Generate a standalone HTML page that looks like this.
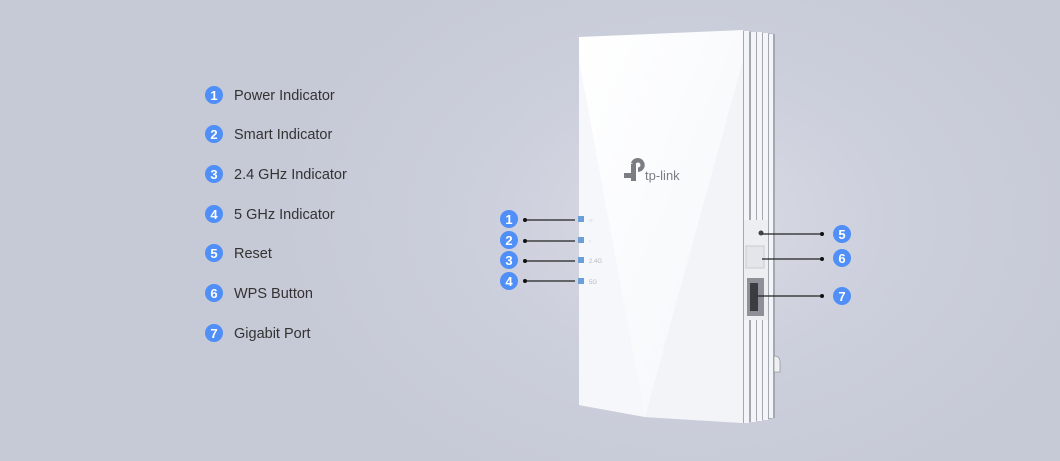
<!DOCTYPE html>
<html><head><meta charset="utf-8"><style>
html,body{margin:0;padding:0;}
body{width:1060px;height:461px;overflow:hidden;background:radial-gradient(ellipse 420px 300px at 690px 220px,#d9dce5 0%,#cbcedb 55%,#c6c9d6 100%);font-family:"Liberation Sans",sans-serif;}
</style></head><body>
<svg width="1060" height="461" viewBox="0 0 1060 461" xmlns="http://www.w3.org/2000/svg" style="position:absolute;left:0;top:0">
<defs>
<linearGradient id="fr" x1="0" y1="0" x2="1" y2="1">
<stop offset="0" stop-color="#ffffff"/><stop offset="1" stop-color="#f4f6fa"/></linearGradient>
</defs>
<g font-family="Liberation Sans, sans-serif">
<g fill="#4f8ff7">
<circle cx="214" cy="95" r="9"/><circle cx="214" cy="134" r="9"/><circle cx="214" cy="174" r="9"/>
<circle cx="214" cy="214" r="9"/><circle cx="214" cy="253" r="9"/><circle cx="214" cy="293" r="9"/><circle cx="214" cy="333" r="9"/>
</g>
<g fill="#fff" font-size="13" font-weight="bold" text-anchor="middle">
<text x="214" y="100">1</text><text x="214" y="139">2</text><text x="214" y="179">3</text><text x="214" y="219">4</text><text x="214" y="258">5</text><text x="214" y="298">6</text><text x="214" y="338">7</text>
</g>
<g fill="#333" font-size="14.5">
<text x="234" y="100">Power Indicator</text>
<text x="234" y="139">Smart Indicator</text>
<text x="234" y="179">2.4 GHz Indicator</text>
<text x="234" y="219">5 GHz Indicator</text>
<text x="234" y="258">Reset</text>
<text x="234" y="298">WPS Button</text>
<text x="234" y="338">Gigabit Port</text>
</g>
<path d="M743 31 L775 34 L775 418 L743 423 Z" fill="#a4a8b1"/>
<g fill="#f4f5f8">
<rect x="744" y="31" width="5" height="392"/><rect x="751" y="32" width="5" height="390"/><rect x="757" y="32" width="5" height="389"/><rect x="763" y="33" width="5" height="387"/><rect x="769" y="34" width="4" height="384"/>
</g>
<rect x="744" y="220" width="24" height="100" fill="#eceef2"/>
<rect x="746" y="246" width="18" height="22" fill="#e3e5ea" stroke="#c8cbd2"/>
<rect x="747" y="278" width="17" height="38" fill="#8d9098"/>
<rect x="750" y="283" width="8" height="28" fill="#3a3c42"/>
<circle cx="761" cy="233" r="2.5" fill="#444"/>
<path d="M774 356 q6 0 6 6 v10 h-6 z" fill="#eef0f4" stroke="#999" stroke-width="0.8"/>
<path d="M579 37 L743 30 L743 423 L645 417 L579 405 Z" fill="url(#fr)"/>
<path d="M579 60 L645 417 L579 405 Z" fill="#f6f7fa"/>
<path d="M743 60 L645 417 L743 423 Z" fill="#f2f4f8"/>
<g fill="#7b7d82">
<path d="M624 173 h7 v-9 h5 v17 h-5 v-3 h-7z"/>
<path d="M631 163 a7 7 0 1 1 7 9 v-4.5 a2.5 2.5 0 1 0 -2.5 -2.5z"/>
<text x="645" y="180" font-size="13">tp-link</text>
</g>
<g fill="#6a9fd8"><rect x="578" y="216" width="6" height="6"/><rect x="578" y="237" width="6" height="6"/><rect x="578" y="257" width="6" height="6"/><rect x="578" y="278" width="6" height="6"/></g>
<g fill="#b5b8be" font-size="6"><text x="589" y="222">○</text><text x="589" y="243">◦</text><text x="589" y="263">2.4G</text><text x="589" y="284">5G</text></g>
<g stroke="#222" stroke-width="1.3"><line x1="525" y1="220" x2="575" y2="220"/><line x1="525" y1="241" x2="575" y2="241"/><line x1="525" y1="261" x2="575" y2="261"/><line x1="525" y1="281" x2="575" y2="281"/>
<line x1="762" y1="234" x2="822" y2="234"/><line x1="762" y1="259" x2="822" y2="259"/><line x1="758" y1="296" x2="822" y2="296"/></g>
<g fill="#111"><circle cx="525" cy="220" r="2"/><circle cx="525" cy="241" r="2"/><circle cx="525" cy="261" r="2"/><circle cx="525" cy="281" r="2"/><circle cx="822" cy="234" r="2"/><circle cx="822" cy="259" r="2"/><circle cx="822" cy="296" r="2"/></g>
<g fill="#4f8ff7"><circle cx="509" cy="219" r="9"/><circle cx="509" cy="240" r="9"/><circle cx="509" cy="260" r="9"/><circle cx="509" cy="281" r="9"/><circle cx="842" cy="234" r="9"/><circle cx="842" cy="258" r="9"/><circle cx="842" cy="296" r="9"/></g>
<g fill="#fff" font-size="13" font-weight="bold" text-anchor="middle">
<text x="509" y="224">1</text><text x="509" y="245">2</text><text x="509" y="265">3</text><text x="509" y="286">4</text><text x="842" y="239">5</text><text x="842" y="263">6</text><text x="842" y="301">7</text>
</g>
</g>
</svg>
</body></html>
